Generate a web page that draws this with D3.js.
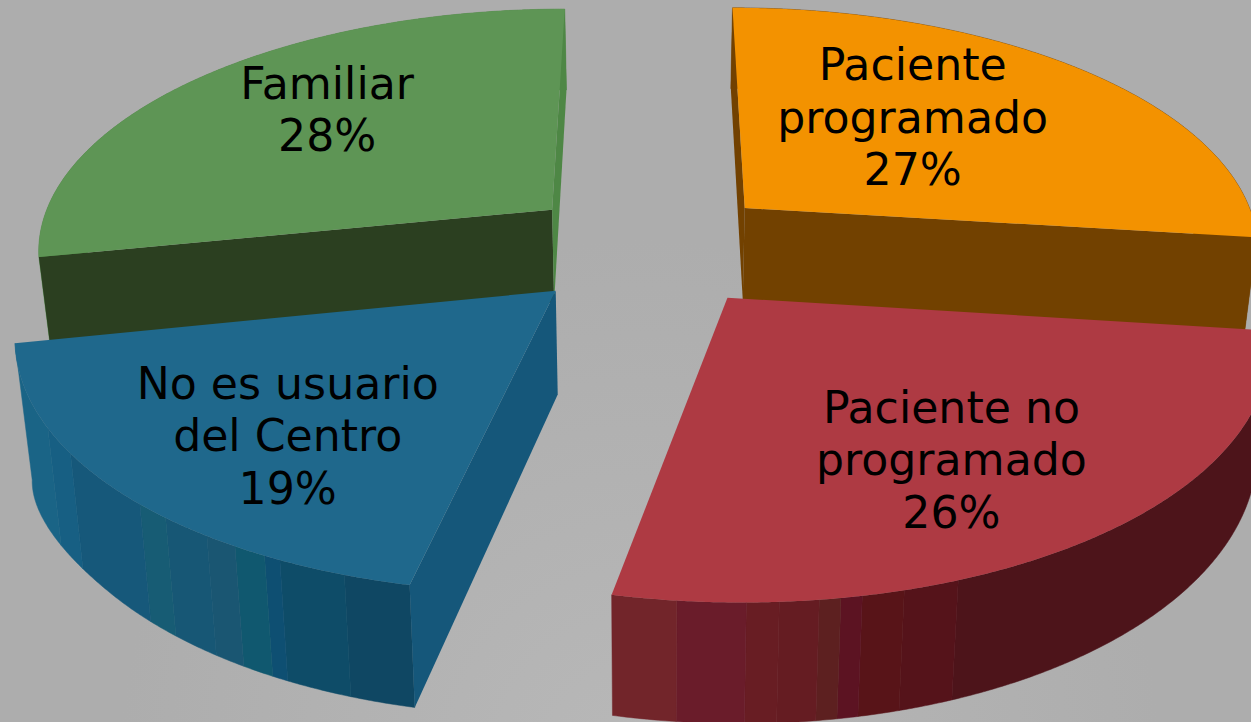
<!DOCTYPE html>
<html><head><meta charset="utf-8">
<style>html,body{margin:0;padding:0;overflow:hidden;background:#aeaeae}svg{display:block}</style>
<script src="https://cdn.jsdelivr.net/npm/d3@7"></script></head>
<body><svg id="c" width="1251" height="722"></svg>
<script>
const categories = ["Paciente programado","Paciente no programado","No es usuario del Centro","Familiar"];
const values = [27,26.3,18.5,28.2];
const labelLines = [["Paciente","programado","27%"],["Paciente no","programado","26%"],["No es usuario","del Centro","19%"],["Familiar","28%"]];
const topColors = ["#f39200","#ae3a43","#1f688c","#5e9555"];
const cutColorsStart = ["#724100","#5a1a20","#15577a","#2b3f20"];
const cutColorsEnd = ["#724100","#5a1a20","#15577a","#4e8745"];
const wallEdges = [[],[677,745,778,820,840,861,903,957],[48,70,140,165,207,235,265,280,345],[]];
const wallShades = [["#724100"],["#72252a","#6a1c2a","#681d23","#651c22","#5d2020","#5c1322","#581418","#55131a","#4d141a"],
 ["#1a6486","#175f83","#16587a","#175c74","#175775","#1a5672","#10586f","#0e4f72","#0e4c68","#0f4763"],["#4e8745"]];
const labelOffsets = [[168,-128],[224,125],[-268,108],[-225,-111]];
const sliceDepths = [95,99,101,95];
const rimFlare = [0,0,28,0];

const W=1251,H=722,cx=650,cy=247,R=500,k=0.483,D=3300,explode=125,startDeg=0,sx=1.035,fontSize=44.2,lineGap=52.5,taper=4750,flareSpan=30*Math.PI/180;
const svg=d3.select("#c");
const defs=svg.append("defs");
const g=defs.append("radialGradient").attr("id","bg").attr("gradientUnits","userSpaceOnUse")
 .attr("cx",640).attr("cy",760).attr("r",520);
g.append("stop").attr("offset",0).attr("stop-color","#b8b8b8");
g.append("stop").attr("offset",1).attr("stop-color","#adadad");
svg.append("rect").attr("width",W).attr("height",H).attr("fill","url(#bg)");

const start=startDeg*Math.PI/180;
const arcs=d3.pie().sort(null).startAngle(start).endAngle(start+2*Math.PI)(values);
const line=d3.line();
function proj(a,r,z,ex,ey){
  const u=ex+r*Math.sin(a), v=ey-r*Math.cos(a), f=1/(1-v/D);
  return [cx+sx*u*f*(1-z/taper), cy+v*k*f+z*f];
}
const order=[0,3,1,2];
order.forEach(i=>{
  const d=arcs[i], mid=(d.startAngle+d.endAngle)/2, depth=sliceDepths[i];
  const ex=explode*Math.sin(mid), ey=-explode*Math.cos(mid);
  const P=(a,r,z)=>proj(a,r,z,ex,ey);
  const layer=svg.append("g").attr("class","slice").attr("data-name",categories[i]);
  const n=Math.ceil((d.endAngle-d.startAngle)*180/Math.PI*3);
  const angs=d3.range(n+1).map(j=>d.startAngle+(d.endAngle-d.startAngle)*j/n);
  const shade=wallEdges[i].length?d3.scaleThreshold().domain(wallEdges[i]).range(wallShades[i]):()=>wallShades[i][0];
  const rimDepth=a=>{
    const t=Math.max(0,1-(d.endAngle-a)/flareSpan);
    return depth+rimFlare[i]*t*t;
  };
  const runs=[];
  d3.pairs(angs).forEach(([a,b])=>{
    const c=shade((P(a,R,0)[0]+P(b,R,0)[0])/2);
    const last=runs[runs.length-1];
    if(last&&last.c===c) last.a.push(b); else runs.push({c,a:[a,b]});
  });
  runs.forEach(r=>{
    const pts=r.a.map(a=>P(a,R,0)).concat(r.a.slice().reverse().map(a=>P(a,R,rimDepth(a))));
    layer.append("path").attr("fill",r.c).attr("stroke",r.c).attr("stroke-width",0.5).attr("d",line(pts)+"Z");
  });
  // radial cut walls: only those that face the viewer
  [[d.startAngle,cutColorsStart[i],-1],[d.endAngle,cutColorsEnd[i],1]].forEach(([a,c,s])=>{
    const A=P(0,0,0),B=P(a,R,0),C=P(a,R,depth);
    const cross=(B[0]-A[0])*(C[1]-B[1])-(B[1]-A[1])*(C[0]-B[0]);
    if(cross*s<=0) return;
    layer.append("path").attr("fill",c)
      .attr("d",line([P(a,0,0),P(a,R,0),P(a,R,depth),P(a,0,depth)])+"Z");
  });
  layer.append("path").attr("fill",topColors[i])
    .attr("d",line([P(0,0,0)].concat(angs.map(a=>P(a,R,0))))+"Z");
  const o=P(0,0,0);
  const t=layer.append("text").attr("text-anchor","middle")
    .attr("font-family","'DejaVu Sans',sans-serif").attr("font-size",fontSize).attr("fill","#000");
  labelLines[i].forEach((s,j)=>{
    t.append("tspan").attr("x",o[0]+labelOffsets[i][0]).attr("y",o[1]+labelOffsets[i][1]+j*lineGap).text(s);
  });
});
</script></body></html>
